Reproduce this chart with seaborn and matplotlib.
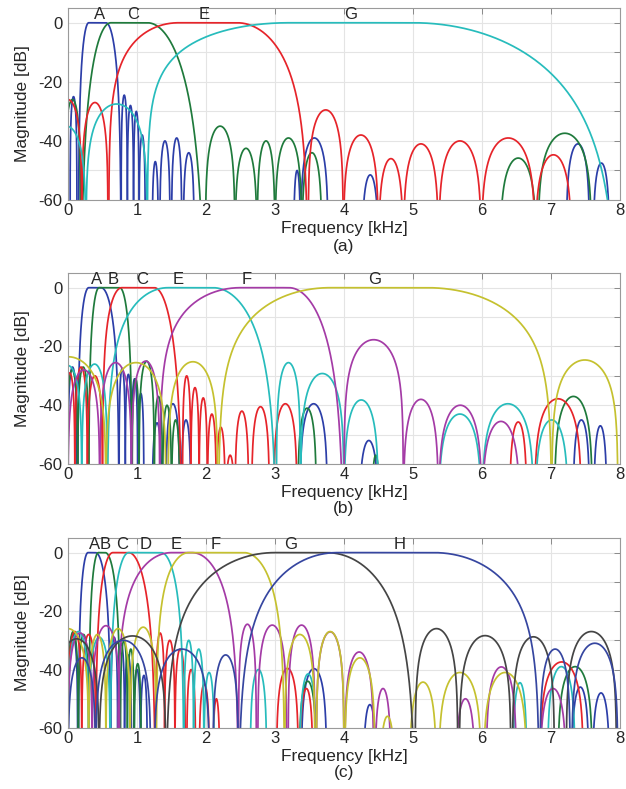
import numpy as np
import pandas as pd
import matplotlib
matplotlib.use("Agg")
import matplotlib.pyplot as plt
import seaborn as sns

# Passband of each filter:
#   [lower null, start of flat top, end of flat top, upper null, lower skirt exponent, upper skirt exponent]
# Sidelobes of each filter: (left null, right null, peak level in dB)

# ---------------- panel (a) ----------------
A_a_band = [0.15, 0.30, 0.55, 0.77, 2.2, 2.2]
A_a_lobes = [(0.03, 0.13, -25), (0.77, 0.86, -24.5), (0.86, 0.95, -28), (0.95, 1.03, -30),
             (1.03, 1.12, -38), (1.22, 1.31, -47), (1.33, 1.48, -40), (1.50, 1.65, -39),
             (1.67, 1.83, -44), (3.27, 3.37, -50), (3.37, 3.77, -39), (4.26, 4.50, -51.5),
             (7.22, 7.56, -41), (7.61, 7.85, -47.5)]
C_a_band = [0.18, 0.62, 1.15, 1.99, 3.3, 3.5]
C_a_lobes = [(-0.05, 0.18, -26), (1.99, 2.42, -35), (2.42, 2.74, -42.5), (2.74, 3.00, -40),
             (3.00, 3.39, -39), (3.39, 3.68, -44), (6.26, 6.79, -45.8), (6.81, 7.59, -37.4)]
E_a_band = [0.59, 1.60, 2.45, 3.48, 1.25, 2.1]
E_a_lobes = [(-0.2, 0.2, -26), (0.2, 0.58, -27), (3.48, 3.99, -29.5), (3.99, 4.50, -38),
             (4.50, 4.86, -46), (4.86, 5.37, -41), (5.37, 5.99, -40), (5.99, 6.77, -39),
             (6.77, 7.30, -44.7)]
G_a_band = [1.15, 3.20, 5.00, 7.98, 1.1, 2.8]
G_a_lobes = [(-0.3, 0.26, -35), (0.26, 1.15, -27.5)]

# ---------------- panel (b) ----------------
A_b_band = [0.14, 0.30, 0.48, 0.74, 2.0, 2.0]
A_b_lobes = [(0.0, 0.13, -27), (0.74, 0.83, -27.5), (0.83, 0.92, -29.5), (0.92, 1.01, -31),
             (1.01, 1.10, -36), (1.22, 1.36, -46), (1.42, 1.62, -39.5), (1.64, 1.78, -45),
             (3.36, 3.76, -39.5), (4.22, 4.50, -52), (7.32, 7.56, -45), (7.62, 7.81, -47)]
B_b_band = [0.30, 0.45, 0.75, 0.93, 2.0, 2.0]
B_b_lobes = [(-0.02, 0.14, -28), (0.14, 0.30, -27), (0.93, 1.03, -31), (1.03, 1.25, -25),
             (1.25, 1.37, -37), (1.37, 1.50, -40), (1.50, 1.62, -45), (3.33, 3.60, -41),
             (4.40, 4.52, -57), (7.05, 7.60, -37)]
C_b_band = [0.50, 0.78, 1.25, 1.66, 1.5, 3.0]
C_b_lobes = [(-0.05, 0.10, -29), (0.10, 0.28, -27), (0.28, 0.50, -30), (1.66, 1.78, -30),
             (1.78, 1.90, -34), (1.90, 2.02, -37.5), (2.02, 2.15, -43), (2.15, 2.28, -47.5),
             (2.28, 2.42, -57), (2.42, 2.62, -42), (2.66, 2.92, -40.5), (2.98, 3.32, -39.5),
             (6.40, 6.65, -45.7), (6.76, 7.44, -37.8)]
E_b_band = [0.57, 1.45, 2.10, 3.02, 1.6, 2.4]
E_b_lobes = [(-0.2, 0.2, -26.5), (0.2, 0.57, -26), (3.02, 3.37, -25.5), (3.37, 4.00, -29.2),
             (4.00, 4.50, -38.2), (5.37, 5.99, -43), (6.00, 6.75, -39.5), (6.77, 7.25, -45)]
F_b_band = [1.33, 2.50, 3.20, 4.00, 1.25, 2.7]
F_b_lobes = [(0.0, 0.46, -28), (0.46, 0.92, -25.5), (0.92, 1.33, -25), (4.00, 4.86, -17.7),
             (4.86, 5.37, -38), (5.37, 6.00, -40), (6.00, 6.55, -45.5)]
G_b_band = [2.18, 3.80, 5.20, 7.01, 1.5, 1.45]
G_b_lobes = [(-0.55, 0.55, -23.5), (0.55, 1.42, -25.5), (1.45, 2.17, -25.2), (7.01, 7.97, -24.6)]

# ---------------- panel (c) ----------------
A_c_band = [0.15, 0.29, 0.40, 0.62, 2.0, 2.0]
A_c_lobes = [(0.0, 0.14, -28), (0.62, 0.72, -29), (0.72, 0.82, -31), (0.82, 0.92, -35),
             (0.95, 1.05, -40), (1.05, 1.15, -42), (3.38, 3.75, -39.7), (4.28, 4.47, -52),
             (7.30, 7.55, -46), (7.60, 7.85, -48)]
B_c_band = [0.30, 0.44, 0.54, 0.76, 2.0, 2.0]
B_c_lobes = [(0.0, 0.15, -27), (0.15, 0.30, -28), (0.76, 0.86, -30), (0.86, 0.96, -33),
             (0.96, 1.06, -38), (3.35, 3.60, -44), (7.10, 7.60, -39)]
C_c_band = [0.40, 0.65, 0.88, 1.27, 2.0, 2.5]
C_c_lobes = [(0.0, 0.2, -27), (0.2, 0.40, -28), (1.27, 1.40, -27.5), (1.40, 1.55, -30),
             (1.55, 1.70, -33), (1.72, 1.85, -40), (1.90, 2.05, -45), (2.10, 2.20, -50),
             (3.02, 3.34, -39.6), (3.36, 3.55, -46.5), (6.84, 7.47, -37.4)]
D_c_band = [0.61, 0.88, 1.35, 1.68, 2.0, 2.0]
D_c_lobes = [(0.0, 0.30, -27), (0.30, 0.61, -29), (1.68, 1.82, -30), (1.82, 1.97, -33),
             (1.97, 2.12, -41), (2.64, 2.88, -40), (3.36, 3.60, -41.5), (6.45, 6.65, -44.5),
             (6.95, 7.35, -39)]
E_c_band = [0.72, 1.50, 1.80, 2.47, 1.5, 2.0]
E_c_lobes = [(0.0, 0.35, -27.5), (0.35, 0.75, -25), (2.47, 2.73, -24.5), (2.75, 3.17, -24.8),
             (3.19, 3.58, -24.8), (3.60, 4.00, -27.1), (4.01, 4.43, -34), (4.45, 4.68, -46.5),
             (5.62, 5.90, -50), (6.06, 6.50, -39.1), (6.84, 7.22, -46.5)]
F_c_band = [1.28, 1.75, 2.55, 3.14, 1.5, 1.8]
F_c_lobes = [(-0.3, 0.3, -26), (0.3, 0.55, -28), (0.55, 0.90, -26), (0.90, 1.28, -25.5),
             (3.14, 3.58, -28), (3.60, 4.00, -27), (4.01, 4.45, -36), (4.52, 4.74, -56),
             (4.95, 5.34, -44.3), (5.37, 5.99, -41), (6.02, 6.65, -41)]
G_c_band = [1.42, 3.00, 3.75, 5.03, 1.8, 2.25]
G_c_lobes = [(-0.2, 0.45, -29.5), (0.45, 1.42, -28.5), (5.03, 5.65, -26), (5.67, 6.42, -28.4),
             (6.44, 7.05, -28.8), (7.22, 7.95, -27)]
H_c_band = [2.47, 3.90, 5.30, 6.83, 2.0, 1.65]
H_c_lobes = [(0.0, 0.40, -36), (0.40, 1.20, -30), (1.25, 2.05, -33), (2.10, 2.47, -35),
             (6.84, 7.28, -33), (7.30, 7.97, -31)]

# label positions along the frequency axis
labels_a = ["A", "C", "E", "G"]
label_pos_a = [0.45, 0.94, 1.97, 4.09]
labels_b = ["A", "B", "C", "E", "F", "G"]
label_pos_b = [0.42, 0.66, 1.07, 1.60, 2.59, 4.45]
labels_c = ["A", "B", "C", "D", "E", "F", "G", "H"]
label_pos_c = [0.38, 0.54, 0.79, 1.13, 1.57, 2.14, 3.22, 4.81]

x_ticks = [0, 1, 2, 3, 4, 5, 6, 7, 8]
y_ticks = [-60, -50, -40, -30, -20, -10, 0]
y_tick_labels = ["-60", "", "-40", "", "-20", "", "0"]

BLUE, GREEN, RED = "#2c3ea8", "#1f7a3c", "#e6242a"
CYAN, MAGENTA, YELLOW = "#27bcbc", "#a43ba6", "#c5c12f"
GRAY, NAVY = "#454545", "#3646a0"

panels = [
    ("a", [("A", A_a_band, A_a_lobes, BLUE), ("C", C_a_band, C_a_lobes, GREEN),
           ("E", E_a_band, E_a_lobes, RED), ("G", G_a_band, G_a_lobes, CYAN)],
     labels_a, label_pos_a),
    ("b", [("A", A_b_band, A_b_lobes, BLUE), ("B", B_b_band, B_b_lobes, GREEN),
           ("C", C_b_band, C_b_lobes, RED), ("E", E_b_band, E_b_lobes, CYAN),
           ("F", F_b_band, F_b_lobes, MAGENTA), ("G", G_b_band, G_b_lobes, YELLOW)],
     labels_b, label_pos_b),
    ("c", [("A", A_c_band, A_c_lobes, BLUE), ("B", B_c_band, B_c_lobes, GREEN),
           ("C", C_c_band, C_c_lobes, RED), ("D", D_c_band, D_c_lobes, CYAN),
           ("E", E_c_band, E_c_lobes, MAGENTA), ("F", F_c_band, F_c_lobes, YELLOW),
           ("G", G_c_band, G_c_lobes, GRAY), ("H", H_c_band, H_c_lobes, NAVY)],
     labels_c, label_pos_c),
]

FLOOR = 1e-6


def lobe_curve(n0, n1, peak, npts=200):
    s = np.linspace(0, 1, npts)
    t = 0.5 - 0.5 * np.cos(np.pi * s)          # denser sampling near the nulls
    mag = np.clip(np.sin(np.pi * t), FLOOR, None)
    return n0 + (n1 - n0) * t, peak + 20 * np.log10(mag)


def band_curve(band, npts=300):
    n0, f0, f1, n1, p_lo, p_hi = band
    s = np.linspace(0, 1, npts)
    u = 1 - np.cos(0.5 * np.pi * s)             # denser near the null
    f_rise = n0 + (f0 - n0) * u
    d_rise = 20 * p_lo * np.log10(np.clip(np.sin(0.5 * np.pi * u), FLOOR, None))
    f_flat = np.linspace(f0, f1, 60)
    d_flat = np.zeros_like(f_flat)
    u2 = u[::-1]
    f_fall = n1 - (n1 - f1) * u2
    d_fall = 20 * p_hi * np.log10(np.clip(np.sin(0.5 * np.pi * u2), FLOOR, None))
    return (np.concatenate([f_rise, f_flat, f_fall]),
            np.concatenate([d_rise, d_flat, d_fall]))


def panel_frame(filters):
    rows = []
    seg = 0
    for name, band, lobes, _ in filters:
        f, d = band_curve(band)
        rows.append(pd.DataFrame({"f": f, "db": d, "filt": name, "seg": seg}))
        seg += 1
        for n0, n1, pk in lobes:
            f, d = lobe_curve(n0, n1, pk)
            rows.append(pd.DataFrame({"f": f, "db": d, "filt": name, "seg": seg}))
            seg += 1
    return pd.concat(rows, ignore_index=True)


sns.set_theme(style="white")
plt.rcParams["font.family"] = ["Liberation Sans", "DejaVu Sans"]
TXT = "#262626"

fig = plt.figure(figsize=(6.26, 7.89), dpi=100)
W, H = 626.0, 789.0
boxes = [(68, 8, 620, 200), (68, 273, 620, 464), (68, 538, 620, 728)]
caption_y = [246, 508, 773]

for (tag, filters, labs, lpos), (x0, y0, x1, y1), cy in zip(panels, boxes, caption_y):
    ax = fig.add_axes([x0 / W, 1 - y1 / H, (x1 - x0) / W, (y1 - y0) / H])
    df = panel_frame(filters)
    order = [f[0] for f in filters]
    pal = {f[0]: f[3] for f in filters}
    sns.lineplot(data=df, x="f", y="db", hue="filt", hue_order=order, palette=pal,
                 units="seg", estimator=None, sort=False, legend=False,
                 linewidth=1.25, ax=ax)
    ax.set_xlim(0, 8)
    ax.set_ylim(-60, 5)
    ax.set_xticks(x_ticks)
    ax.set_xticklabels([str(v) for v in x_ticks])
    ax.set_yticks(y_ticks)
    ax.set_yticklabels(y_tick_labels)
    ax.grid(True, color="#e4e4e4", linewidth=0.8)
    ax.set_axisbelow(True)
    ax.tick_params(direction="in", top=True, right=True, length=4, width=0.7,
                   color="#8a8a8a", labelsize=12, labelcolor=TXT)
    ax.tick_params(axis="x", pad=2)
    ax.tick_params(axis="y", pad=4)
    for sp in ax.spines.values():
        sp.set_color("#9a9a9a")
        sp.set_linewidth(0.8)
    ax.set_xlabel("Frequency [kHz]", fontsize=12.5, color=TXT)
    ax.set_ylabel("Magnitude [dB]", fontsize=12.5, color=TXT)
    ax.xaxis.set_label_coords(0.5, -29.0 / (y1 - y0))
    ax.xaxis.label.set_va("center")
    ax.yaxis.set_label_coords(-45.0 / (x1 - x0), 0.5)
    ax.yaxis.label.set_va("center")
    for lab, xp in zip(labs, lpos):
        ax.text(xp, 2.9, lab, ha="center", va="center", fontsize=12, color=TXT)
    fig.text((x0 + x1) / 2 / W, 1 - cy / H, f"({tag})", ha="center", va="center",
             fontsize=12.5, color=TXT)

fig.savefig("out.png", dpi=100, facecolor="white")
